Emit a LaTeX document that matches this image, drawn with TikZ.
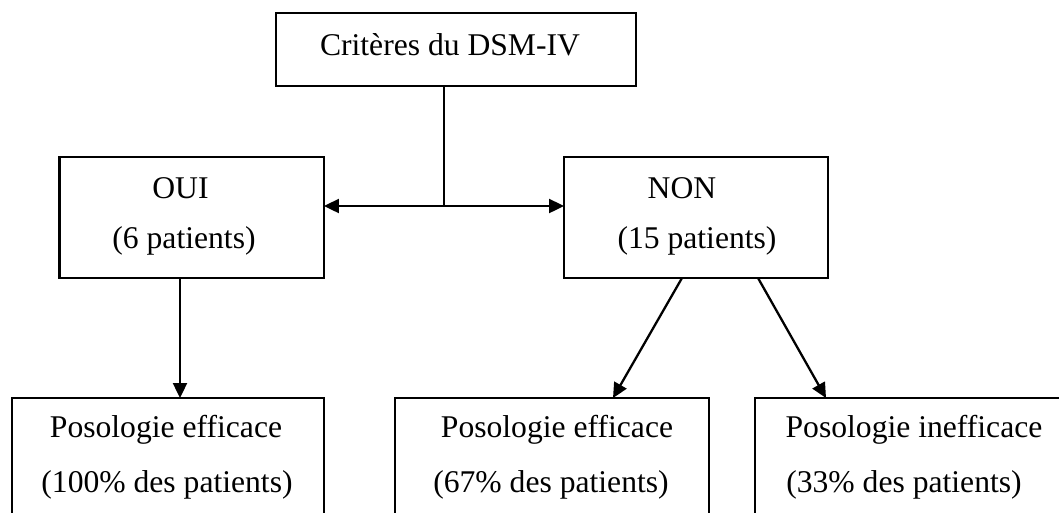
\documentclass[tikz,border=0pt]{standalone}
\usepackage{fontspec}
\setmainfont{Liberation Serif}
\usetikzlibrary{arrows.meta}
\begin{document}
\begin{tikzpicture}[x=0.02cm,y=-0.02cm,
  box/.style={draw,line width=1.4pt,rectangle,inner sep=0pt,outer sep=0pt},
  txt/.style={anchor=base,inner sep=0pt,font=\fontsize{18}{22}\selectfont},
  conn/.style={line width=1.3pt},
  arr/.style={line width=1.3pt,-{Triangle[length=0.3cm,width=0.28cm]}}]
\useasboundingbox (0,0) rectangle (1059,512);
\clip (0,0) rectangle (1059,512);
% boxes
\node[box,minimum width=7.2cm,minimum height=1.46cm] (top) at (456,49.5) {};
\node[box,minimum width=5.29cm,minimum height=2.42cm] (oui) at (191.75,217.5) {};
\node[box,minimum width=5.28cm,minimum height=2.42cm] (non) at (696,217.5) {};
\node[box,minimum width=6.24cm,minimum height=2.4cm] (b1) at (168,458) {};
\node[box,minimum width=6.28cm,minimum height=2.4cm] (b2) at (552,458) {};
\node[box,minimum width=6.22cm,minimum height=2.4cm] (b3) at (910.5,458) {};
% texts
\node[txt] (t0) at (450,55) {Critères du DSM-IV};
\node[txt] (t1) at (180.5,198) {OUI};
\node[txt] (t2) at (184,248) {(6 patients)};
\node[txt] (t3) at (682,198) {NON};
\node[txt] (t4) at (697,248) {(15 patients)};
\node[txt] (t5) at (166,437) {Posologie efficace};
\node[txt] (t6) at (167,492) {(100\% des patients)};
\node[txt] (t7) at (557,437) {Posologie efficace};
\node[txt] (t8) at (551,492) {(67\% des patients)};
\node[txt] (t9) at (914,437) {Posologie inefficace};
\node[txt] (t10) at (904,492) {(33\% des patients)};
% connectors
\coordinate (j) at (444,206);
\draw[line width=1pt] (j |- top.south) -- (j);
\draw[arr] (j) -- (j -| oui.east);
\draw[arr] (j) -- (j -| non.west);
\coordinate (xo) at (180,0);
\draw[arr] (xo |- oui.south) -- (xo |- b1.north);
\coordinate (n1) at (682,0);
\coordinate (n2) at (758,0);
\coordinate (m1) at (613,0);
\coordinate (m2) at (826,0);
\draw[arr] (n1 |- non.south) -- (m1 |- b2.north);
\draw[arr] (n2 |- non.south) -- (m2 |- b3.north);
\end{tikzpicture}
\end{document}
